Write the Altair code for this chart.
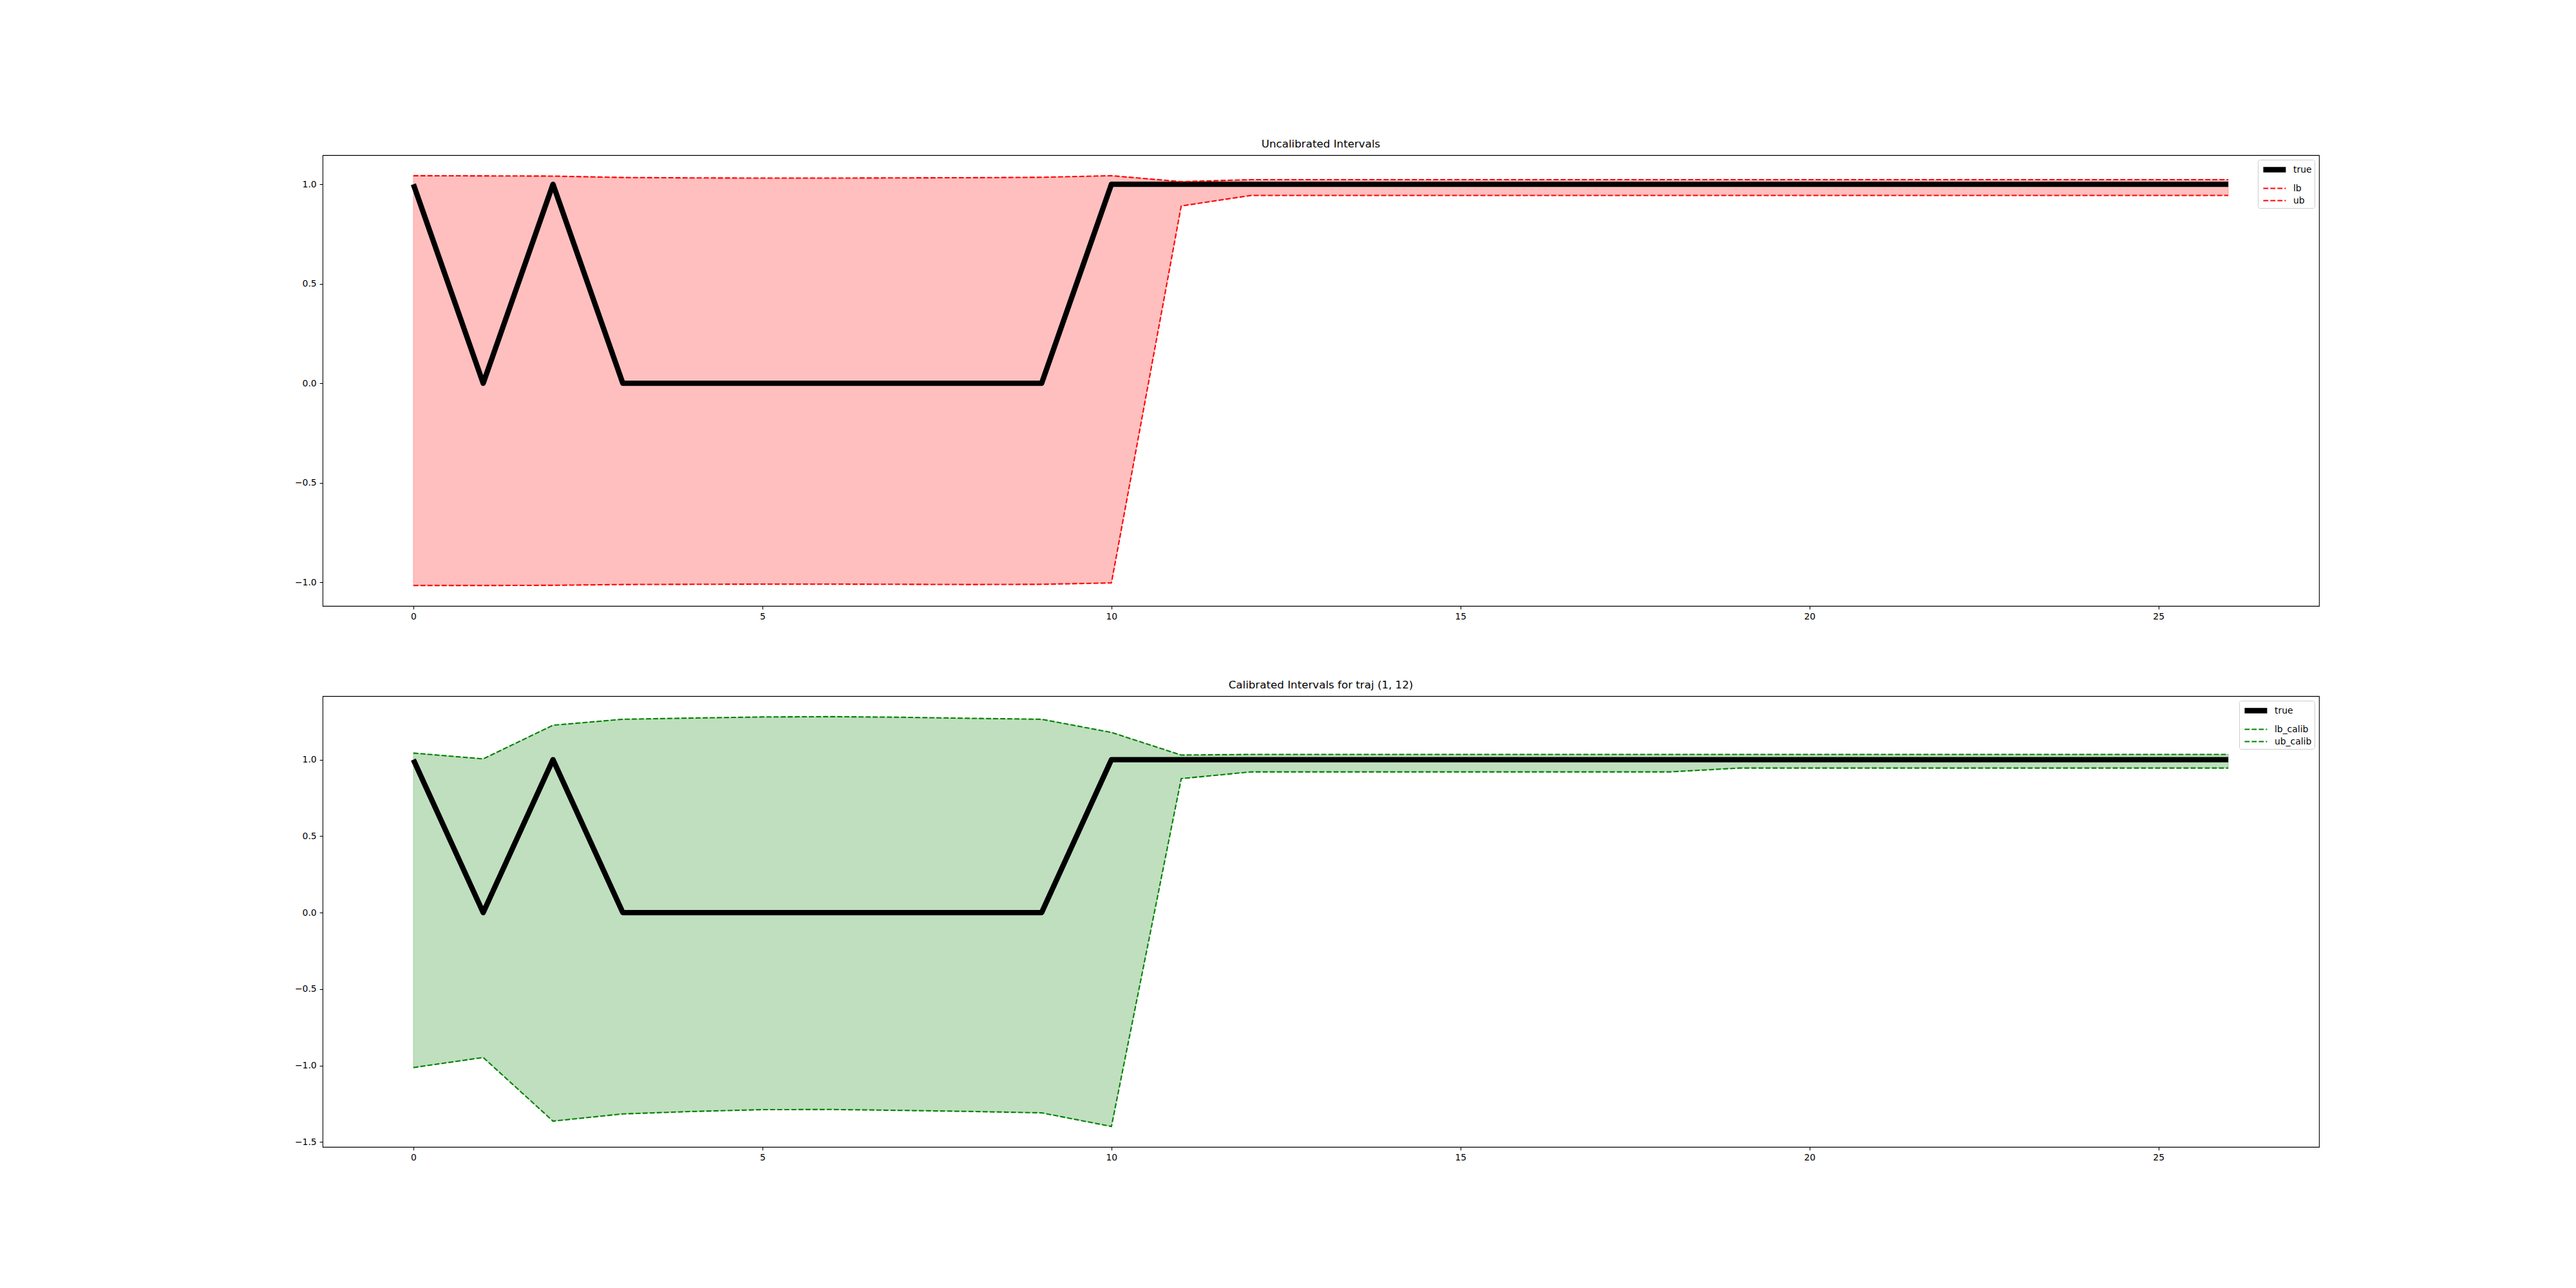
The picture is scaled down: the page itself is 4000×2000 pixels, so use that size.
import altair as alt
import pandas as pd

# ---------------- data ----------------
x_vals = list(range(27))
true_vals = [1, 0, 1, 0, 0, 0, 0, 0, 0, 0, 1] + [1] * 16

# uncalibrated interval
lb = [-1.016, -1.016, -1.015, -1.011, -1.010, -1.009, -1.009, -1.010, -1.011,
      -1.010, -1.003, 0.891] + [0.944] * 15
ub = [1.043, 1.042, 1.041, 1.034, 1.032, 1.031, 1.031, 1.032, 1.033,
      1.035, 1.043, 1.013] + [1.023] * 15

# calibrated interval
lb_calib = [-1.013, -0.947, -1.363, -1.316, -1.300, -1.288, -1.287, -1.293, -1.300,
            -1.309, -1.398, 0.876] + [0.920] * 7 + [0.945] * 8
ub_calib = [1.043, 1.005, 1.225, 1.264, 1.272, 1.279, 1.281, 1.277, 1.270,
            1.264, 1.178, 1.030] + [1.034] * 15

x_ticks = [0, 5, 10, 15, 20, 25]
top_y_ticks = [-1.0, -0.5, 0.0, 0.5, 1.0]
bot_y_ticks = [-1.5, -1.0, -0.5, 0.0, 0.5, 1.0]

FONT = "DejaVu Sans"


def panel(lower, upper, lo_name, hi_name, line_color, title, ydomain, yticks):
    band = pd.DataFrame({"x": x_vals, "lo": lower, "hi": upper})
    lines = pd.concat([
        pd.DataFrame({"x": x_vals, "y": true_vals, "series": "true"}),
        pd.DataFrame({"x": x_vals, "y": lower, "series": lo_name}),
        pd.DataFrame({"x": x_vals, "y": upper, "series": hi_name}),
    ], ignore_index=True)

    xs = alt.Scale(domain=[-1.3, 27.3], nice=False, zero=False)
    ys = alt.Scale(domain=ydomain, nice=False, zero=False)
    xax = alt.Axis(values=x_ticks, format="d", title=None, grid=False)
    yax = alt.Axis(values=yticks, format=".1f", title=None, grid=False)

    area = alt.Chart(band).mark_area(
        fill=line_color, fillOpacity=0.25,
        stroke=line_color, strokeOpacity=0.25, strokeWidth=1,
    ).encode(
        x=alt.X("x:Q", scale=xs, axis=xax),
        y=alt.Y("lo:Q", scale=ys, axis=yax),
        y2="hi:Q",
    )

    dom = ["true", lo_name, hi_name]
    leg = alt.Legend(title=None, orient="top-right", offset=7)
    line = alt.Chart(lines).mark_line(strokeJoin="round").encode(
        x=alt.X("x:Q", scale=xs, axis=xax),
        y=alt.Y("y:Q", scale=ys, axis=yax),
        color=alt.Color("series:N", sort=dom,
                        scale=alt.Scale(domain=dom, range=["black", line_color, line_color]),
                        legend=leg),
        strokeDash=alt.StrokeDash("series:N", sort=dom,
                                  scale=alt.Scale(domain=dom, range=[[1, 0], [7.7, 3.3], [7.7, 3.3]]),
                                  legend=leg),
        strokeWidth=alt.StrokeWidth("series:N", sort=dom,
                                    scale=alt.Scale(type="ordinal", domain=dom, range=[8.3, 2.1, 2.1]),
                                    legend=leg),
    )

    return alt.layer(area, line).properties(
        width=3100, height=700,
        title=alt.TitleParams(title),
    )


top = panel(lb, ub, "lb", "ub", "red", "Uncalibrated Intervals",
            [-1.119, 1.146], top_y_ticks)
bottom = panel(lb_calib, ub_calib, "lb_calib", "ub_calib", "green",
               "Calibrated Intervals for traj (1, 12)",
               [-1.532, 1.415], bot_y_ticks)

chart = alt.vconcat(top, bottom, spacing=140, bounds="flush").resolve_scale(
    color="independent", strokeDash="independent", strokeWidth="independent",
    x="independent", y="independent",
).resolve_legend(
    color="independent", strokeDash="independent", strokeWidth="independent",
).properties(
    padding={"left": 456, "top": 215, "right": 10, "bottom": 10},
    background="white",
).configure_view(
    stroke="black", strokeWidth=1.1,
).configure_axis(
    domain=False, ticks=True, tickColor="black", tickSize=4.9, tickWidth=1.1,
    labelColor="black", labelFont=FONT, labelFontSize=13.9, labelPadding=4.9,
).configure_title(
    font=FONT, fontSize=16.7, fontWeight="normal", color="black",
    anchor="middle", offset=8,
).configure_legend(
    labelFont=FONT, labelFontSize=13.9, labelColor="black",
    strokeColor="#cccccc", fillColor="white", padding=4, cornerRadius=3,
    symbolType="M-1,0L3.95,0", symbolSize=200, labelOffset=28, rowPadding=3,
)

chart.save("out.html", embed_options={"renderer": "svg", "actions": False})
